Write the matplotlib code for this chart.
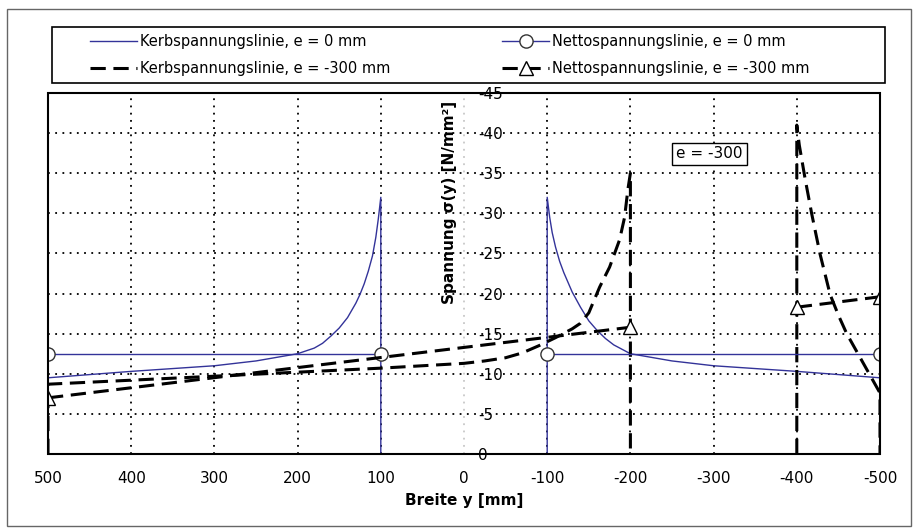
import numpy as np
import matplotlib
matplotlib.use("Agg")
import matplotlib.pyplot as plt
from matplotlib.patches import Rectangle

plt.rcParams['font.family'] = ['DejaVu Sans']
plt.rcParams['axes.unicode_minus'] = False

# Kerbspannungslinie e = 0 mm (hole between +100 and -100)
kerb0_y = [500, 500, 400, 300, 250, 200, 180, 170, 160, 150, 140, 130, 125, 120, 115, 110, 106, 103, 100, 100,
           np.nan,
           -100, -100, -103, -106, -110, -115, -120, -130, -140, -150, -160, -170, -180, -200, -250, -300, -400, -500, -500]
kerb0_s = [0, -9.5, -10.3, -11.0, -11.6, -12.5, -13.2, -13.8, -14.7, -15.7, -17.0, -18.8, -19.9, -21.2, -22.8, -24.7, -27.0, -29.3, -32.0, 0,
           np.nan,
           0, -32.0, -29.5, -27.6, -25.8, -24.0, -22.6, -20.2, -18.3, -16.6, -15.4, -14.4, -13.6, -12.5, -11.6, -11.0, -10.3, -9.5, 0]

# Nettospannungslinie e = 0 mm
netto0_y = [500, 100, np.nan, -100, -500]
netto0_s = [-12.5, -12.5, np.nan, -12.5, -12.5]

# Kerbspannungslinie e = -300 mm (hole between -200 and -400)
kerb300_y = [500, 500, 400, 300, 200, 100, 50, 0, -25, -50, -70, -90, -110, -130, -140, -150, -163, -175, -187, -193, -197, -200, -200,
             np.nan,
             -400, -400, -403, -406, -410, -418, -428, -440, -450, -460, -480, -500, -500]
kerb300_s = [0, -8.7, -9.2, -9.7, -10.2, -10.7, -11.0, -11.3, -11.6, -12.0, -12.6, -13.5, -14.5, -15.6, -16.3, -17.6, -20.8, -23.3, -26.7, -29.5, -33.0, -35.0, 0,
             np.nan,
             0, -41.0, -38.5, -36.7, -34.3, -29.9, -24.9, -19.9, -17.3, -15.0, -11.3, -7.6, 0]

# Nettospannungslinie e = -300 mm
netto300_y = [500, -200, np.nan, -400, -500]
netto300_s = [-7.0, -15.8, np.nan, -18.3, -19.6]

x_ticks = [500, 400, 300, 200, 100, 0, -100, -200, -300, -400, -500]
y_ticks = [0, -5, -10, -15, -20, -25, -30, -35, -40, -45]

navy = '#333399'

fig = plt.figure(figsize=(9.18, 5.29), dpi=100)
ax = fig.add_axes([48 / 918, 1 - 454 / 529, 832 / 918, 361 / 529])

ax.plot(kerb0_y, kerb0_s, color=navy, lw=1.0, label='Kerbspannungslinie, e = 0 mm', zorder=3)
ax.plot(kerb300_y, kerb300_s, color='black', lw=2.2, dashes=(5, 2.5),
        label='Kerbspannungslinie, e = -300 mm', zorder=3)
ax.plot(netto0_y, netto0_s, color=navy, lw=1.0, marker='o', ms=9.5, mfc='white', mec='#333333',
        mew=1.0, label='Nettospannungslinie, e = 0 mm', zorder=4)
ax.plot(netto300_y, netto300_s, color='black', lw=2.2, dashes=(5, 2.5), marker='^', ms=9.5,
        mfc='white', mec='black', mew=1.0, label='Nettospannungslinie, e = -300 mm', zorder=4)

ax.set_xlim(500, -500)
ax.set_ylim(0, -45)
ax.set_xticks(x_ticks)
ax.set_yticks(y_ticks)

# y axis at x = 0, labels on the right side of it
for s in ['left', 'top', 'bottom']:
    ax.spines[s].set_visible(False)
ax.spines['right'].set_position(('data', 0))
ax.spines['right'].set_visible(False)
ax.yaxis.set_ticks_position('right')
ax.tick_params(axis='y', length=0, pad=10, labelsize=11)
ax.tick_params(axis='x', length=0, pad=12, labelsize=11)
ax.add_patch(Rectangle((0, 0), 1, 1, transform=ax.transAxes, fill=False,
                       lw=1.5, edgecolor='black', zorder=5, clip_on=False))

ax.grid(True, color='black', lw=1.3, linestyle=(0, (1, 3)))
ax.get_xgridlines()[5].set_color('#c8c8c8')

ax.set_xlabel('Breite y [mm]', fontsize=11, fontweight='bold', labelpad=5)
ax.text(18, -31.3, 'Spannung σ(y) [N/mm²]', rotation=90, fontsize=11, fontweight='bold',
        ha='center', va='center')

ax.text(-295, -37.4, 'e = -300', fontsize=11, ha='center', va='center',
        bbox=dict(boxstyle='square,pad=0.25', fc='white', ec='black', lw=1.0), zorder=6)

# legend: entries without frame, frame drawn as its own box
handles, labels = ax.get_legend_handles_labels()
fig.legend(handles, labels, loc='upper left', ncol=2,
           bbox_to_anchor=(90 / 918, 1 - 34 / 529),
           frameon=False, fontsize=10.5, handlelength=3.2, handletextpad=0.2,
           numpoints=1, borderaxespad=0, borderpad=0, labelspacing=0.8, columnspacing=7.7)
fig.add_artist(Rectangle((52 / 918, 1 - 83 / 529), 833 / 918, 56 / 529, transform=fig.transFigure,
                         fill=False, lw=1.2, edgecolor='black'))

fig.add_artist(Rectangle((7 / 918, 1 - 526 / 529), 904 / 918, 517 / 529, transform=fig.transFigure,
                         fill=False, lw=1.0, edgecolor='#666666'))

fig.savefig('out.png', dpi=100)
